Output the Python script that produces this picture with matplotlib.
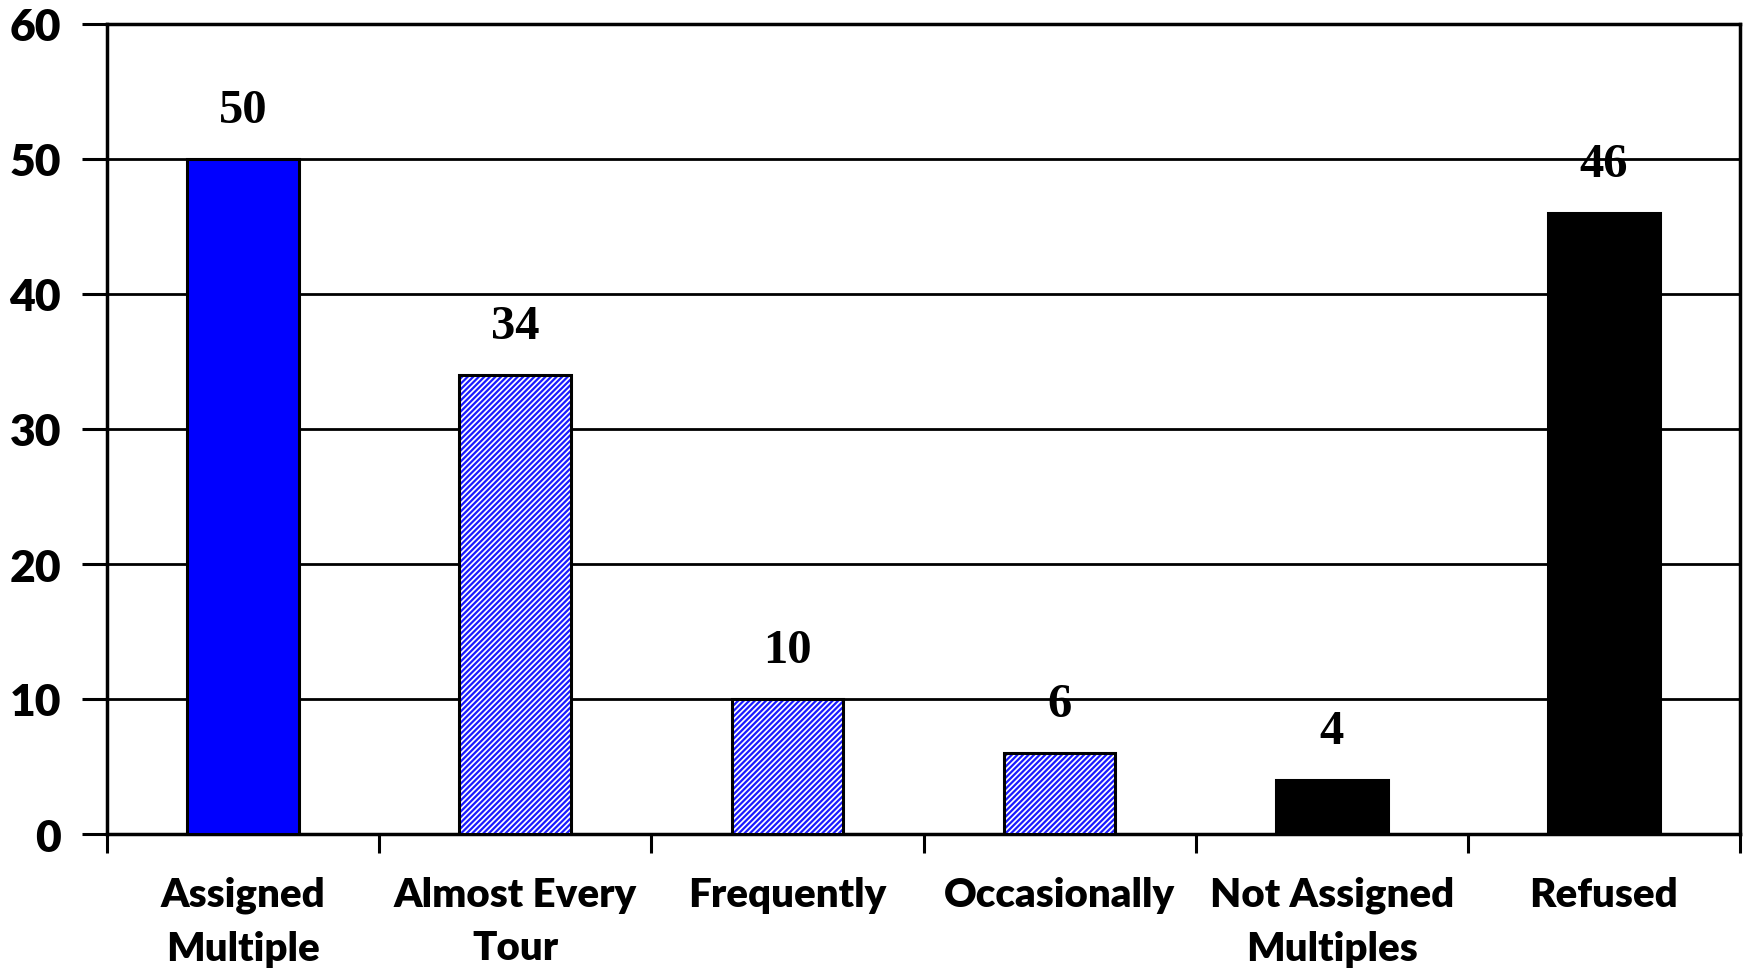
import matplotlib
matplotlib.use("Agg")
import matplotlib.pyplot as plt
import numpy as np

categories = ["Assigned\nMultiple", "Almost Every\nTour", "Frequently",
              "Occasionally", "Not Assigned\nMultiples", "Refused"]
values = [50, 34, 10, 6, 4, 46]
styles = ["solid_blue", "hatch", "hatch", "hatch", "black", "black"]
yticks = [0, 10, 20, 30, 40, 50, 60]

plt.rcParams['hatch.linewidth'] = 1.6

fig = plt.figure(figsize=(17.44, 9.70), dpi=100)
ax = fig.add_axes([107/1744, 1 - 835/970, (1740 - 107)/1744, (835 - 25)/970])

x = np.arange(len(categories))
width = 0.41
for xi, v, s in zip(x, values, styles):
    if s == "solid_blue":
        ax.bar(xi, v, width, color="#0000FF", edgecolor="black", linewidth=2.2, zorder=3)
    elif s == "black":
        ax.bar(xi, v, width, color="black", edgecolor="black", linewidth=2.2, zorder=3)
    else:
        ax.bar(xi, v, width, color="white", edgecolor="#1a1aff", hatch="//////",
               linewidth=0, zorder=3)
        ax.bar(xi, v, width, color="none", edgecolor="black", linewidth=2.2, zorder=4)
    ax.annotate(str(v), (xi, v), xytext=(0, 35), textcoords="offset points",
                ha="center", va="center", fontsize=35, fontweight="bold",
                family="Liberation Serif", zorder=5)

ax.set_xlim(-0.5, len(categories) - 0.5)
ax.set_ylim(0, 60)
ax.set_yticks(yticks)
ax.set_yticklabels([str(t) for t in yticks], fontsize=32, fontweight="heavy", family="Lato")
ax.yaxis.grid(True, color="black", linewidth=2.0, zorder=0)
ax.set_axisbelow(True)

ax.set_xticks(np.arange(-0.5, len(categories), 1.0))
ax.set_xticklabels([])
ax.set_xticks(x, minor=True)
ax.set_xticklabels(categories, minor=True, fontsize=29, fontweight="heavy",
                   family="Lato", linespacing=1.55)
ax.tick_params(axis="x", which="minor", length=0, pad=30)
ax.tick_params(axis="x", which="major", length=14, width=2.2, direction="out")
ax.tick_params(axis="y", length=18, width=2.2, direction="out", pad=15)

for sp in ax.spines.values():
    sp.set_linewidth(2.5)
    sp.set_color("black")

fig.savefig("out.png", dpi=100, facecolor="white")
